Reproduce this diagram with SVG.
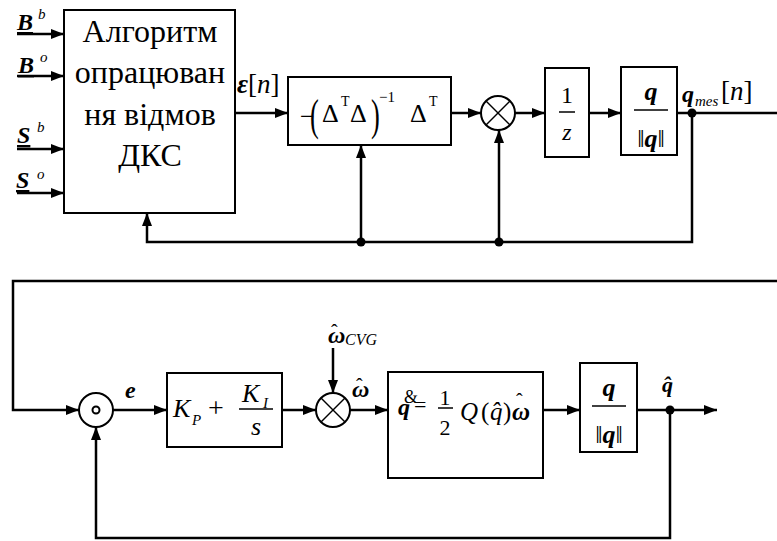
<svg xmlns="http://www.w3.org/2000/svg" width="777" height="541" viewBox="0 0 777 541">
<defs>
<style>
text{font-family:"Liberation Serif","Tinos","Noto Serif","Nimbus Roman","FreeSerif","DejaVu Serif","Times New Roman",Times,serif;fill:#000}
.box{fill:none;stroke:#000;stroke-width:2}
.ln{fill:none;stroke:#000;stroke-width:2.5}
.bar{stroke:#000;stroke-width:1.5}
.arr{fill:none;stroke:#000;stroke-width:2.5;marker-end:url(#ah)}
.bi{font-weight:bold;font-style:italic}
.it{font-style:italic}
.dot{fill:#000}
</style>
<marker id="ah" markerUnits="userSpaceOnUse" markerWidth="14" markerHeight="10" refX="13" refY="5" orient="auto">
<path d="M0,0 L13,5 L0,10 Z" fill="#000"/>
</marker>
</defs>
<rect width="777" height="541" fill="#fff"/>

<g id="inputs">
<text x="17" y="30" font-size="24" class="bi" text-decoration="underline">B</text>
<text x="38" y="19" font-size="15" class="it">b</text>
<text x="18" y="73" font-size="24" class="bi" text-decoration="underline">B</text>
<text x="40" y="62" font-size="15" class="it">o</text>
<text x="17" y="143" font-size="24" class="bi" text-decoration="underline">S</text>
<text x="37" y="132" font-size="15" class="it">b</text>
<text x="16" y="188" font-size="24" class="bi" text-decoration="underline">S</text>
<text x="37" y="179" font-size="15" class="it">o</text>
</g>

<g id="algorithm">
<rect class="box" x="64" y="10" width="171" height="203"/>
<text x="150" y="42" font-size="32" text-anchor="middle">Алгоритм</text>
<text x="150" y="83" font-size="32" text-anchor="middle">опрацюван</text>
<text x="150" y="125" font-size="32" text-anchor="middle">ня відмов</text>
<text x="150" y="166" font-size="32" text-anchor="middle">ДКС</text>
</g>

<g id="eps-label">
<text x="237" y="93" font-size="27"><tspan class="bi">ε</tspan>[<tspan class="it">n</tspan>]</text>
</g>

<g id="pseudoinverse">
<rect class="box" x="288" y="77" width="163" height="68"/>
<text x="300" y="125" font-size="26">−</text>
<text transform="translate(310,130) scale(0.6,1)" font-size="44">(</text>
<text x="322" y="122" font-size="26">Δ</text>
<text x="341" y="106" font-size="14">T</text>
<text x="350" y="122" font-size="26">Δ</text>
<text transform="translate(371,130) scale(0.6,1)" font-size="44">)</text>
<text x="379" y="102" font-size="15">−1</text>
<text x="410" y="122" font-size="26">Δ</text>
<text x="429" y="106" font-size="14">T</text>
</g>

<g id="mult-top">
<circle class="box" cx="498" cy="113" r="17"/>
<line class="bar" x1="486" y1="101" x2="510" y2="125"/>
<line class="bar" x1="510" y1="101" x2="486" y2="125"/>
</g>

<g id="delay">
<rect class="box" x="545" y="68" width="44" height="89"/>
<text x="567" y="103" font-size="24" text-anchor="middle">1</text>
<line class="bar" x1="559" y1="112" x2="575" y2="112"/>
<text x="567" y="140" font-size="24" text-anchor="middle" class="it">z</text>
</g>

<g id="norm-top">
<rect class="box" x="621" y="67" width="56" height="88"/>
<text x="651" y="100" font-size="26" text-anchor="middle" class="bi">q</text>
<line class="bar" x1="634" y1="110" x2="668" y2="110"/>
<text x="651" y="147" font-size="26" text-anchor="middle">‖<tspan class="bi">q</tspan>‖</text>
</g>

<g id="qmes-label">
<text x="682" y="102" font-size="24" class="bi">q</text>
<text x="695" y="106" font-size="15" class="it">mes</text>
<text x="721" y="100" font-size="27">[<tspan class="it">n</tspan>]</text>
</g>

<g id="sum">
<circle class="box" cx="96" cy="410" r="17"/>
<circle class="box" cx="96" cy="410" r="3.5"/>
</g>

<g id="e-label">
<text x="125" y="398" font-size="24" class="bi">e</text>
</g>

<g id="pi">
<rect class="box" x="167" y="373" width="115" height="74"/>
<text x="173" y="417" font-size="26" class="it">K</text>
<text x="192" y="425" font-size="15" class="it">P</text>
<text x="208" y="417" font-size="28">+</text>
<text x="242" y="402" font-size="26" class="it">K</text>
<text x="263" y="408" font-size="15" class="it">I</text>
<line class="bar" x1="239" y1="409" x2="273" y2="409"/>
<text x="256" y="435" font-size="26" class="it" text-anchor="middle">s</text>
</g>

<g id="cvg-label">
<text x="328" y="343" font-size="24" class="bi">ω</text>
<text x="331" y="339" font-size="20">ˆ</text>
<text x="345" y="345" font-size="16" class="it">CVG</text>
</g>

<g id="mult-bottom">
<circle class="box" cx="333" cy="410" r="17"/>
<line class="bar" x1="321" y1="398" x2="345" y2="422"/>
<line class="bar" x1="345" y1="398" x2="321" y2="422"/>
</g>

<g id="omega-label">
<text x="352" y="397" font-size="24" class="bi">ω</text>
<text x="356" y="393" font-size="20">ˆ</text>
</g>

<g id="kinematics">
<rect class="box" x="388" y="372" width="155" height="106"/>
<text x="398" y="415" font-size="24" class="bi">q</text>
<text x="404" y="403" font-size="18">&amp;</text>
<text x="414" y="412" font-size="22">=</text>
<text x="445" y="405" font-size="22" text-anchor="middle">1</text>
<line class="bar" x1="438" y1="408" x2="453" y2="408"/>
<text x="445" y="435" font-size="22" text-anchor="middle">2</text>
<text font-size="25" y="420"><tspan x="460" class="it">Q</tspan><tspan x="481">(</tspan><tspan x="490" class="it">q̂</tspan><tspan x="503">)</tspan><tspan x="512" class="bi">ω</tspan></text>
<text x="516" y="408" font-size="20">ˆ</text>
</g>

<g id="norm-bottom">
<rect class="box" x="580" y="363" width="57" height="89"/>
<text x="609" y="396" font-size="26" text-anchor="middle" class="bi">q</text>
<line class="bar" x1="592" y1="406" x2="626" y2="406"/>
<text x="609" y="443" font-size="26" text-anchor="middle">‖<tspan class="bi">q</tspan>‖</text>
</g>

<g id="qhat-label">
<text x="662" y="392" font-size="22" class="bi">q̂</text>
</g>

<g id="connectors">
<line class="arr" x1="17" y1="34" x2="64" y2="34"/>
<line class="arr" x1="17" y1="76" x2="64" y2="76"/>
<line class="arr" x1="17" y1="149" x2="64" y2="149"/>
<line class="arr" x1="17" y1="193" x2="64" y2="193"/>
<line class="arr" x1="235" y1="113" x2="288" y2="113"/>
<line class="arr" x1="451" y1="113" x2="481" y2="113"/>
<line class="arr" x1="515" y1="113" x2="545" y2="113"/>
<line class="arr" x1="589" y1="113" x2="621" y2="113"/>
<line class="ln" x1="677" y1="113" x2="777" y2="113"/>
<polyline class="arr" points="692,113 692,242 147,242 147,213"/>
<line class="arr" x1="361" y1="242" x2="361" y2="145"/>
<line class="arr" x1="499" y1="242" x2="499" y2="130"/>
<circle class="dot" cx="692" cy="113" r="4.5"/>
<circle class="dot" cx="361" cy="242" r="4.5"/>
<circle class="dot" cx="499" cy="242" r="4.5"/>

<polyline class="arr" points="777,281 13,281 13,410 79,410"/>
<line class="arr" x1="113" y1="410" x2="167" y2="410"/>
<line class="arr" x1="282" y1="410" x2="316" y2="410"/>
<line class="arr" x1="333" y1="348" x2="333" y2="393"/>
<line class="arr" x1="350" y1="410" x2="388" y2="410"/>
<line class="arr" x1="543" y1="410" x2="580" y2="410"/>
<line class="arr" x1="637" y1="410" x2="717" y2="410"/>
<polyline class="arr" points="670,410 670,538 96,538 96,427"/>
<circle class="dot" cx="670" cy="410" r="4.5"/>
</g>
</svg>
